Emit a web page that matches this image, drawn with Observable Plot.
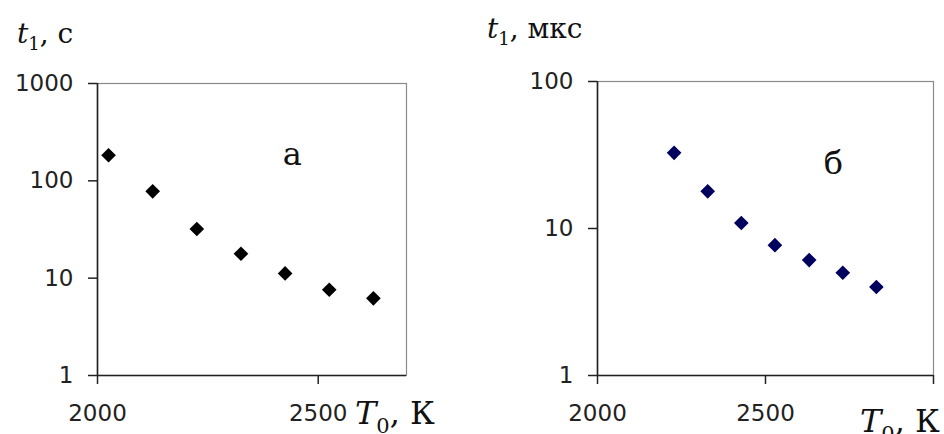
<!DOCTYPE html>
<html>
<head>
<meta charset="utf-8">
<script src="https://cdn.jsdelivr.net/npm/d3@7"></script>
<script src="https://cdn.jsdelivr.net/npm/@observablehq/plot@0.6"></script>
<style>
  html, body { margin: 0; padding: 0; background: #fff; }
  #wrap { position: relative; width: 944px; height: 434px; overflow: hidden; background: #fff; }
  #wrap > div { position: absolute; top: 0; }
  svg { overflow: visible; }
</style>
</head>
<body>
<div id="wrap"><div id="pa" style="left:0"></div><div id="pb" style="left:470px"></div></div>
<script>
// Panel "а": temperature T0 (K) vs t1 (s)
const tempA = [2025, 2125, 2225, 2325, 2425, 2525, 2625];
const timeA = [183, 78, 32, 17.8, 11.2, 7.6, 6.2];
// Panel "б": temperature T0 (K) vs t1 (µs)
const tempB = [2228, 2328, 2428, 2528, 2630, 2730, 2830];
const timeB = [32.7, 17.9, 10.9, 7.7, 6.1, 5.0, 4.0];

const xTicksA = [2000, 2500];
const yTicksA = [1, 10, 100, 1000];
const xTicksB = [2000, 2500, 3000];
const xLabelsB = [2000, 2500];
const yTicksB = [1, 10, 100];

const panelLabels = ["а", "б"];
const panelLabelPos = [{T: 2441, t: 145}, {T: 2702, t: 23.3}];
const yUnits = ["с", "мкс"];

function makePanel(opts) {
  const data = opts.temps.map((T, i) => ({T, t: opts.times[i]}));
  const svg = Plot.plot({
    width: opts.width,
    height: 434,
    marginLeft: opts.ml,
    marginRight: opts.mr,
    marginTop: opts.mt,
    marginBottom: 59,
    style: {fontFamily: "DejaVu Sans", fontSize: "23px", color: "#222", background: "transparent"},
    x: {domain: opts.xDomain},
    y: {type: "log", domain: opts.yDomain},
    marks: [
      Plot.frame({stroke: "#8a8a8a", strokeWidth: 1.2}),
      Plot.axisX({ticks: opts.xTicks, tickSize: 9, tickPadding: 20, stroke: "#222", strokeWidth: 1.5,
        fontSize: 23, label: null, tickFormat: d => opts.xLabels.includes(d) ? String(d) : ""}),
      Plot.axisY({ticks: opts.yTicks, tickSize: 9, tickPadding: 15, stroke: "#222", strokeWidth: 1.5,
        fontSize: 23, label: null, tickFormat: d => String(d)}),
      Plot.ruleX([opts.xDomain[0]], {stroke: "#222", strokeWidth: 1.6}),
      Plot.ruleY([opts.yDomain[0]], {stroke: "#222", strokeWidth: 1.6}),
      Plot.dot(data, {x: "T", y: "t", symbol: "diamond2", r: 6.6, fill: opts.color, stroke: "none"}),
      Plot.text([opts.label], {x: opts.labelPos.T, y: opts.labelPos.t, text: d => d,
        fontFamily: "DejaVu Serif", fontSize: 32, fill: "#111", textAnchor: "middle", lineAnchor: "bottom"})
    ]
  });
  const s = d3.select(svg);
  // y axis title: t1, unit
  const yt = s.append("text").attr("x", opts.ytx).attr("y", opts.yty).attr("text-anchor", "start")
    .attr("font-family", "DejaVu Serif").attr("font-size", 28).attr("fill", "#111");
  yt.append("tspan").attr("font-style", "italic").text("t");
  yt.append("tspan").attr("font-size", 18).attr("dy", 7).text("1");
  yt.append("tspan").attr("dy", -7).text(", " + opts.unit);
  // x axis title: T0, K
  const xt = s.append("text").attr("x", opts.xtx).attr("y", opts.xty).attr("text-anchor", "start")
    .attr("font-family", "DejaVu Serif").attr("font-size", 32).attr("fill", "#111");
  xt.append("tspan").attr("font-style", "italic").text("T");
  xt.append("tspan").attr("font-size", 21).attr("dy", 9).text("0");
  xt.append("tspan").attr("dy", -9).text(", К");
  return svg;
}

document.getElementById("pa").appendChild(makePanel({
  temps: tempA, times: timeA, width: 470, ml: 97, mr: 64, mt: 83,
  xDomain: [2000, 2700], yDomain: [1, 1000], xTicks: xTicksA, xLabels: xTicksA, yTicks: yTicksA,
  color: "#000", label: panelLabels[0], labelPos: panelLabelPos[0], unit: yUnits[0],
  ytx: 17, yty: 43, xtx: 355, xty: 424
}));
document.getElementById("pb").appendChild(makePanel({
  temps: tempB, times: timeB, width: 474, ml: 127, mr: 11, mt: 81,
  xDomain: [2000, 3000], yDomain: [1, 100], xTicks: xTicksB, xLabels: xLabelsB, yTicks: yTicksB,
  color: "#00005e", label: panelLabels[1], labelPos: panelLabelPos[1], unit: yUnits[1],
  ytx: 17, yty: 38, xtx: 390, xty: 432
}));
</script>
</body>
</html>
